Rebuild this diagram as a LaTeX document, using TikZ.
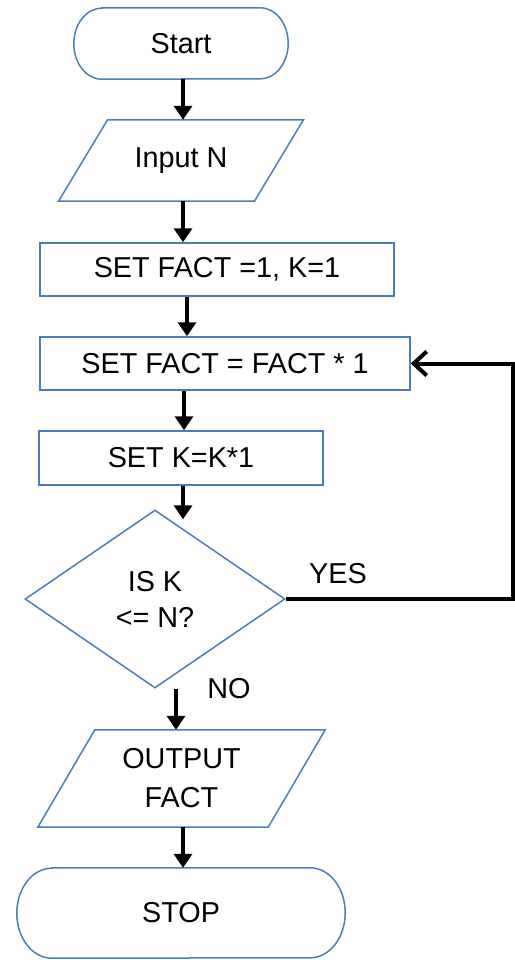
\documentclass[tikz,border=0pt]{standalone}
\usepackage{fontspec}
\setmainfont{Liberation Sans}
\usetikzlibrary{arrows.meta,calc,shapes.geometric}
\definecolor{shapeblue}{RGB}{74,126,187}
\begin{document}
\begin{tikzpicture}[x=1pt,y=-1pt,
  txt/.style={font=\fontsize{28.8}{38}\selectfont, text=black, align=center, inner sep=0pt},
  outline/.style={draw=shapeblue, line width=1.5pt},
  boxnode/.style={txt, outline, rectangle, minimum height=53pt},
  ghost/.style={txt, rectangle, draw=none},
  arr/.style={line width=3.5pt, -{Triangle[length=14pt,width=18pt]}},
  looparr/.style={line width=4pt, -{Straight Barb[length=13pt,width=24pt]}},
  lbl/.style={font=\fontsize{28.8}{34}\selectfont, inner sep=0pt}
]
\useasboundingbox (0,0) rectangle (514,960);

% column coordinates for the arrows
\coordinate (c176) at (176,0);
\coordinate (c183) at (183,0);
\coordinate (c184) at (184,0);
\coordinate (c187) at (187,0);
\coordinate (lp) at (513,0);

% Start terminal
\node[ghost, minimum width=214pt, minimum height=71pt] (start) at (181,43.5) {Start};
\draw[outline] ([xshift=28pt]start.north west) -- ([xshift=-28pt]start.north east)
  arc[start angle=90,end angle=-90,x radius=28pt,y radius=35.5pt]
  -- ([xshift=28pt]start.south west)
  arc[start angle=270,end angle=90,x radius=28pt,y radius=35.5pt] -- cycle;

% Input N
\node[ghost, minimum width=195.5pt, minimum height=81pt] (in) at (181,160.5) {Input N};
\draw[outline] ([xshift=24.5pt]in.north west) -- ([xshift=24.5pt]in.north east)
  -- ([xshift=-24.5pt]in.south east) -- ([xshift=-24.5pt]in.south west) -- cycle;

% process boxes
\node[boxnode, minimum width=354pt] (b1) at (217,269.5) {SET FACT =1, K=1};
\node[boxnode, minimum width=370pt] (b2) at (225,363.5) {SET FACT = FACT * 1};
\node[boxnode, minimum width=284pt, minimum height=54pt] (b3) at (181,458) {SET K=K*1};

% decision
\node[txt, outline, diamond, minimum width=260pt, minimum height=178pt,
      font=\fontsize{28.8}{36}\selectfont] (dia) at (155,599) {IS K\\<= N?};

% Output
\node[ghost, minimum width=230pt, minimum height=97pt,
      font=\fontsize{28.8}{39}\selectfont] (out) at (181.5,778.5) {OUTPUT\\FACT};
\draw[outline] ([xshift=28.5pt]out.north west) -- ([xshift=28.5pt]out.north east)
  -- ([xshift=-28.5pt]out.south east) -- ([xshift=-28.5pt]out.south west) -- cycle;

% STOP terminal
\node[ghost, minimum width=328pt, minimum height=90pt] (stop) at (181,913) {STOP};
\draw[outline] ([xshift=35pt]stop.north west) -- ([xshift=-35pt]stop.north east)
  arc[start angle=90,end angle=-90,x radius=35pt,y radius=45pt]
  -- ([xshift=35pt]stop.south west)
  arc[start angle=270,end angle=90,x radius=35pt,y radius=45pt] -- cycle;

% labels
\node[lbl] (yes) at (338,574) {YES};
\node[lbl] (no) at (229,689) {NO};

% arrows
\draw[arr] (start.south -| c183) -- (in.north -| c183);
\draw[arr] (in.south -| c183) -- (b1.north -| c183);
\draw[arr] (b1.south -| c187) -- (b2.north -| c187);
\draw[arr] (b2.south -| c184) -- (b3.north -| c184);
\draw[arr, shorten >=-10pt] (b3.south -| c183) -- (dia.north -| c183);
\draw[arr] (dia.south -| c176) -- (out.north -| c176);
\draw[arr] (out.south -| c183) -- (stop.north -| c183);

% loop back
\draw[looparr] (dia.east) -- (dia.east -| lp) |- (b2.east);
\end{tikzpicture}
\end{document}
